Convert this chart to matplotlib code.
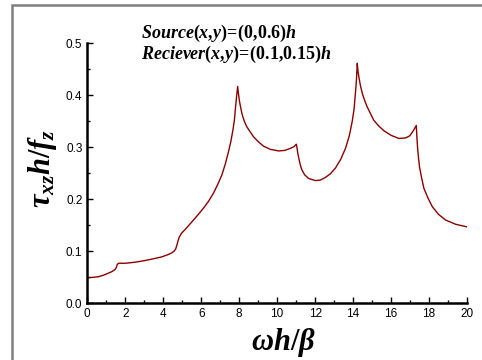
import matplotlib
matplotlib.use('Agg')
import matplotlib.pyplot as plt
from matplotlib.ticker import MultipleLocator, FormatStrFormatter
from matplotlib.patches import Rectangle

# values
freq = [0.0, 0.3, 0.58, 0.85, 1.11, 1.3, 1.46, 1.53, 1.58, 1.65, 2.0, 2.52, 3.0, 3.4, 3.9, 4.28, 4.45,
        4.59, 4.66, 4.72, 4.78, 4.84, 4.95, 5.07, 5.16, 5.35, 5.59, 5.85, 6.12, 6.4, 6.65, 6.9, 7.09,
        7.27, 7.44, 7.56, 7.67, 7.75, 7.81, 7.87, 7.92, 7.96, 8.01, 8.06, 8.15, 8.27, 8.38, 8.5, 8.76,
        9.0, 9.29, 9.65, 10.08, 10.4, 10.7, 10.88, 11.01, 11.05, 11.09, 11.14, 11.22, 11.31, 11.45,
        11.66, 12.02, 12.28, 12.54, 12.8, 13.07, 13.35, 13.6, 13.8, 13.95, 14.05, 14.13, 14.18, 14.22,
        14.26, 14.32, 14.39, 14.5, 14.62, 14.74, 14.9, 15.09, 15.35, 15.62, 16.0, 16.41, 16.77, 16.98,
        17.12, 17.24, 17.33, 17.36, 17.4, 17.45, 17.5, 17.6, 17.73, 17.95, 18.17, 18.5, 18.88, 19.4,
        20.0]
stress = [0.049, 0.050, 0.051, 0.054, 0.058, 0.061, 0.065, 0.069, 0.075, 0.077, 0.077, 0.079, 0.082, 0.085, 0.089, 0.094, 0.097,
          0.101, 0.105, 0.112, 0.120, 0.127, 0.134, 0.139, 0.142, 0.150, 0.160, 0.171, 0.183, 0.197, 0.212, 0.231, 0.247,
          0.268, 0.292, 0.311, 0.333, 0.353, 0.378, 0.400, 0.417, 0.404, 0.390, 0.380, 0.364, 0.350, 0.341, 0.334, 0.320,
          0.311, 0.302, 0.296, 0.293, 0.294, 0.298, 0.301, 0.306, 0.298, 0.288, 0.279, 0.266, 0.256, 0.247,
          0.240, 0.236, 0.237, 0.242, 0.249, 0.260, 0.277, 0.298, 0.322, 0.349, 0.373, 0.407, 0.432, 0.4615,
          0.446, 0.432, 0.418, 0.402, 0.389, 0.378, 0.366, 0.352, 0.341, 0.332, 0.323, 0.317, 0.318, 0.322,
          0.329, 0.336, 0.342, 0.320, 0.298, 0.278, 0.262, 0.243, 0.221, 0.202, 0.186, 0.171, 0.160, 0.152,
          0.147]

x_ticks = [0, 2, 4, 6, 8, 10, 12, 14, 16, 18, 20]
y_ticks = [0.0, 0.1, 0.2, 0.3, 0.4, 0.5]

plt.rcParams['mathtext.fontset'] = 'custom'
plt.rcParams['mathtext.it'] = 'Liberation Serif:italic:bold'
plt.rcParams['mathtext.rm'] = 'Liberation Serif:bold'
plt.rcParams['mathtext.bf'] = 'Liberation Serif:bold'

fig = plt.figure(figsize=(4.82, 3.6), dpi=100)
fig.patches.append(Rectangle((12/482, -0.1), 1.2, 1 - 5.5/360 + 0.1, transform=fig.transFigure,
                             fill=False, edgecolor='#808080', linewidth=1.8))
ax = fig.add_axes([87.3/482, 1 - 303.3/360, 379.7/482, 260/360])

ax.plot(freq, stress, color='#8b0000', linewidth=1.0)

ax.set_xlim(0, 20)
ax.set_ylim(0, 0.5)
ax.set_xticks(x_ticks)
ax.set_yticks(y_ticks)
ax.xaxis.set_minor_locator(MultipleLocator(1))
ax.yaxis.set_minor_locator(MultipleLocator(0.05))
ax.yaxis.set_major_formatter(FormatStrFormatter('%.1f'))
ax.tick_params(which='both', direction='in', labelsize=8.5, width=1, colors='black')
ax.tick_params(which='major', length=4)
ax.tick_params(which='minor', length=2)
for lab in ax.get_xticklabels() + ax.get_yticklabels():
    lab.set_family('Liberation Sans')
ax.spines['top'].set_visible(False)
ax.spines['right'].set_visible(False)
ax.spines['left'].set_linewidth(1.8)
ax.spines['bottom'].set_linewidth(1.8)

ax.set_xlabel(r'$\omega h/\beta$', fontsize=22)
ax.set_ylabel(r'$\tau_{xz}h/f_z$', fontsize=22)
ax.xaxis.set_label_coords(0.517, -0.087)
ax.yaxis.set_label_coords(-0.075, 0.518)

ax.text(141/482, 1 - 38/360, r'$Source(x{,}y)\!=\!(0{,}0.6)h$', transform=fig.transFigure,
        fontsize=13, ha='left', va='baseline')
ax.text(141/482, 1 - 59/360, r'$Reciever(x{,}y)\!=\!(0.1{,}0.15)h$', transform=fig.transFigure,
        fontsize=13, ha='left', va='baseline')

fig.savefig('out.png', dpi=100)
